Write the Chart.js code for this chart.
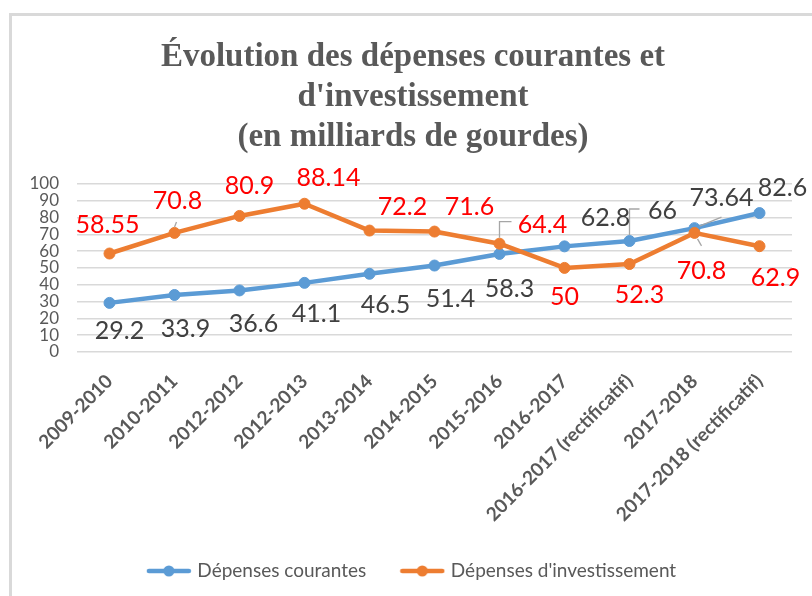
<!DOCTYPE html>
<html>
<head>
<meta charset="utf-8">
<script src="https://cdn.jsdelivr.net/npm/chart.js@4.4.1/dist/chart.umd.min.js"></script>
<style>
html, body { margin: 0; padding: 0; background: #fff; overflow: hidden; width: 812px; height: 596px; }
.frame { position: absolute; left: 9px; top: 13px; width: 900px; height: 700px; border-left: 3px solid #d9d9d9; border-top: 3px solid #d9d9d9; }
#evolution { position: absolute; left: 12px; top: 16px; }
</style>
</head>
<body>
<div class="frame"></div>
<canvas id="evolution" width="802" height="620"></canvas>
<script>
const categories = [
    "2009-2010",
    "2010-2011",
    "2012-2012",
    "2012-2013",
    "2013-2014",
    "2014-2015",
    "2015-2016",
    "2016-2017",
    "2016-2017 (rectificatif)",
    "2017-2018",
    "2017-2018 (rectificatif)"]
const depensesCourantes = [29.2, 33.9, 36.6, 41.1, 46.5, 51.4, 58.3, 62.8, 66, 73.64, 82.6]
const depensesInvestissement = [58.55, 70.8, 80.9, 88.14, 72.2, 71.6, 64.4, 50, 52.3, 70.8, 62.9]
const seriesNames = ["Dépenses courantes", "Dépenses d'investissement"]
const titleLines = ["Évolution des dépenses courantes et", "d'investissement", "(en milliards de gourdes)"]

const blue = '#5b9bd5'
const orange = '#ed7d31'
const gray = '#595959'

// where each value label sits relative to its point (px), plus leader lines
const labelStyles = [
    {
        color: '#404040',
        offsets: [[10, 27], [11, 33], [14, 33], [12, 30], [16, 30], [16, 32], [10, 34], [41, -29], [33, -31], [27, -31], [23, -26]],
        leaders: { 8: [[0, -6], [0, -32], [10, -32]], 9: [[5, -2], [27, -11]] }
    },
    {
        color: '#ff0000',
        offsets: [[-2, -30], [3, -33], [10, -31], [24, -27], [33, -25], [35, -26], [43, -20], [0, 28], [10, 30], [7, 37], [16, 31]],
        leaders: { 1: [[0, -6], [2, -11]], 6: [[0, -6], [0, -22], [12, -22]], 9: [[3, 6], [7, 13]] }
    }
]

const valueLabels = {
    id: 'valueLabels',
    afterDatasetsDraw(chart) {
        const ctx = chart.ctx
        chart.data.datasets.forEach((ds, di) => {
            const meta = chart.getDatasetMeta(di)
            const style = labelStyles[di]
            ctx.save()
            ctx.strokeStyle = '#a6a6a6'
            ctx.lineWidth = 1.3
            Object.entries(style.leaders).forEach(([idx, pts]) => {
                const p = meta.data[idx]
                ctx.beginPath()
                pts.forEach(([dx, dy], k) => {
                    if (k === 0) ctx.moveTo(p.x + dx, p.y + dy)
                    else ctx.lineTo(p.x + dx, p.y + dy)
                })
                ctx.stroke()
            })
            ctx.font = '25px Lato'
            ctx.fillStyle = style.color
            ctx.textAlign = 'center'
            ctx.textBaseline = 'alphabetic'
            meta.data.forEach((p, i) => {
                const [dx, dy] = style.offsets[i]
                ctx.fillText(String(ds.data[i]), p.x + dx, p.y + dy + 9)
            })
            ctx.restore()
        })
    }
}

function legendMarker(color) {
    const c = document.createElement('canvas')
    c.width = 46
    c.height = 14
    const g = c.getContext('2d')
    g.strokeStyle = color
    g.lineWidth = 4.5
    g.lineCap = 'round'
    g.beginPath()
    g.moveTo(3, 7)
    g.lineTo(43, 7)
    g.stroke()
    g.fillStyle = color
    g.beginPath()
    g.arc(23, 7, 5.5, 0, Math.PI * 2)
    g.fill()
    return c
}
const markers = [legendMarker(blue), legendMarker(orange)]

function lineSet(label, data, color, order) {
    return {
        label: label,
        data: data,
        borderColor: color,
        backgroundColor: color,
        borderWidth: 4.5,
        borderJoinStyle: 'round',
        borderCapStyle: 'round',
        pointRadius: 5.5,
        pointBackgroundColor: color,
        pointBorderColor: color,
        pointBorderWidth: 1,
        tension: 0,
        order: order
    }
}

var ctx = document.getElementById('evolution').getContext('2d')
var myChart = new Chart(ctx, {
    type: 'line',
    data: {
        labels: categories,
        datasets: [
            lineSet(seriesNames[0], depensesCourantes, blue, 1),
            lineSet(seriesNames[1], depensesInvestissement, orange, 0)
        ]
    },
    options: {
        responsive: false,
        animation: false,
        events: [],
        layout: { padding: { left: 0, right: 0, top: 0, bottom: 45.5 } },
        plugins: {
            title: {
                display: true,
                text: titleLines,
                color: gray,
                font: { family: 'Liberation Serif', size: 33, weight: 'bold', lineHeight: 1.2 },
                padding: { top: 22, bottom: 27 }
            },
            legend: {
                position: 'bottom',
                labels: {
                    usePointStyle: true,
                    pointStyleWidth: 38,
                    padding: 37,
                    color: gray,
                    font: { family: 'Lato', size: 19 },
                    generateLabels: chart => chart.data.datasets.map((ds, i) => ({
                        text: ds.label,
                        pointStyle: markers[i],
                        fillStyle: ds.borderColor,
                        strokeStyle: ds.borderColor,
                        lineWidth: 0,
                        hidden: false,
                        datasetIndex: i,
                        fontColor: gray
                    }))
                }
            },
            tooltip: { enabled: false }
        },
        scales: {
            x: {
                offset: true,
                grid: { display: false },
                border: { display: false },
                ticks: {
                    autoSkip: false,
                    minRotation: 45,
                    maxRotation: 45,
                    padding: 10,
                    color: gray,
                    font: { family: 'Lato', size: 19, weight: 'bold' }
                },
                afterFit: scale => { scale.height = 172.5 }
            },
            y: {
                min: 0,
                max: 100,
                border: { display: false },
                grid: { color: '#d9d9d9', lineWidth: 1.5, drawTicks: false },
                ticks: {
                    stepSize: 10,
                    autoSkip: false,
                    padding: 18,
                    color: gray,
                    font: { family: 'Lato', size: 17 }
                },
                afterFit: scale => { scale.width = 65 }
            },
            // empty right-hand strip so the title and legend stay centred on the frame
            spacer: {
                position: 'right',
                grid: { display: false },
                border: { display: false },
                ticks: { display: false },
                afterFit: scale => { scale.width = 22 }
            }
        }
    },
    plugins: [valueLabels]
})
</script>
</body>
</html>
